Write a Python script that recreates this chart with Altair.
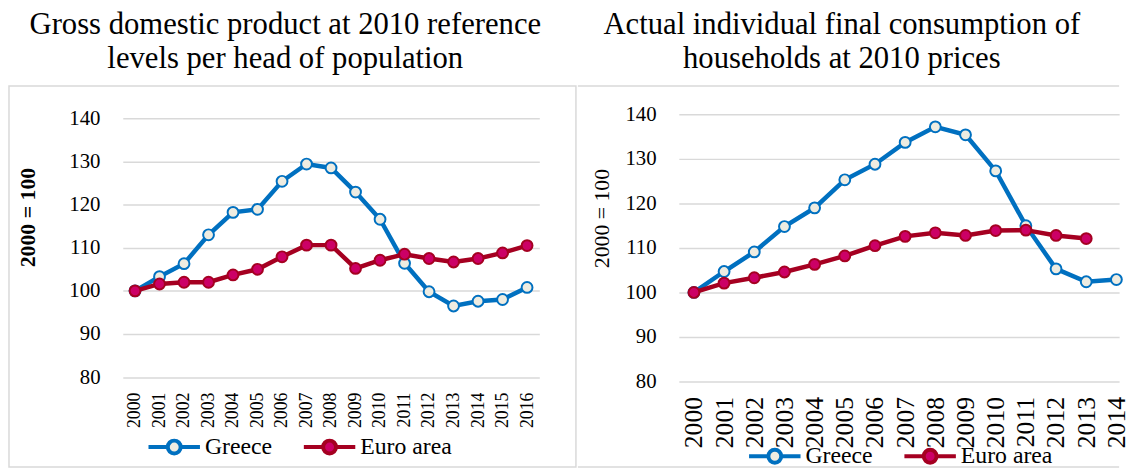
import altair as alt
import pandas as pd

# ---------------- data ----------------
SERIES = ["Greece", "Euro area"]
LINE_COLORS = ["#0070C0", "#A50021"]
FILL_COLORS = ["#EEECE1", "#CC0066"]

gdp_years = list(range(2000, 2017))
gdp_greece = [100.0, 103.3, 106.3, 113.0, 118.2, 118.9, 125.4, 129.4, 128.5,
              122.9, 116.6, 106.4, 99.8, 96.5, 97.6, 98.0, 100.8]
gdp_euro = [100.0, 101.6, 102.0, 102.0, 103.7, 105.0, 107.9, 110.6, 110.6,
            105.2, 107.1, 108.5, 107.5, 106.7, 107.5, 108.8, 110.5]

cons_years = list(range(2000, 2015))
cons_greece = [100.0, 104.7, 109.1, 114.8, 119.0, 125.3, 128.8, 133.7, 137.2,
               135.4, 127.3, 115.0, 105.3, 102.4, 102.9]
cons_years_euro = list(range(2000, 2014))
cons_euro = [100.0, 102.1, 103.3, 104.6, 106.3, 108.2, 110.5, 112.6, 113.4,
             112.8, 113.9, 114.0, 112.8, 112.1]

y_ticks = [80, 90, 100, 110, 120, 130, 140]

title_left = ["Gross domestic product at 2010 reference", "levels per head of population"]
title_right = ["Actual individual final consumption of", "households at 2010 prices"]
y_title = "2000 = 100"

FONT = "Liberation Serif"
GRID = "#D9D9D9"
LEGEND_PATH = ("M-1,0H-0.25 M0.25,0H1 "
               "M-0.25,0A0.25,0.25,0,1,1,0.25,0A0.25,0.25,0,1,1,-0.25,0Z")


def long_df(years_a, vals_a, years_b, vals_b):
    rows = []
    for yr, v in zip(years_a, vals_a):
        rows.append({"year": yr, "value": v, "series": SERIES[0]})
    for yr, v in zip(years_b, vals_b):
        rows.append({"year": yr, "value": v, "series": SERIES[1]})
    return pd.DataFrame(rows)


def panel(df, title, title_dx, width, height, xdomain, ydomain, years, xlab_size,
          ytitle_weight, ytitle_x, ytitle_y, leg_x, leg_y, frame_layers):
    leg = dict(orient="none", legendX=leg_x, legendY=leg_y, direction="horizontal",
               title=None, symbolType=LEGEND_PATH, symbolSize=2704,
               symbolStrokeWidth=4, labelFont=FONT, labelFontSize=24,
               labelColor="black", columnPadding=24, labelOffset=3, padding=0)
    stroke = alt.Stroke("series:N", scale=alt.Scale(domain=SERIES, range=LINE_COLORS),
                        legend=alt.Legend(**leg))
    fill = alt.Fill("series:N", scale=alt.Scale(domain=SERIES, range=FILL_COLORS),
                    legend=alt.Legend(**leg))
    x = alt.X("year:Q",
              scale=alt.Scale(domain=xdomain, nice=False, zero=False),
              axis=alt.Axis(values=years, format="d", labelAngle=270, labelAlign="right",
                            labelBaseline="middle", labelFont=FONT, labelFontSize=xlab_size,
                            labelColor="black", labelPadding=15, grid=False, domain=False,
                            ticks=False, tickSize=0, title=None, labelOverlap=False,
                            labelFlush=False))
    y = alt.Y("value:Q",
              scale=alt.Scale(domain=ydomain, nice=False, zero=False),
              axis=alt.Axis(values=y_ticks, grid=True, gridColor=GRID, gridWidth=1.5,
                            domain=False, ticks=False, tickSize=0, labelFont=FONT,
                            labelFontSize=21, labelColor="black", labelPadding=23,
                            title=y_title, titleFont=FONT, titleFontSize=22,
                            titleFontWeight=ytitle_weight, titleColor="black",
                            titleAngle=270, titleX=ytitle_x, titleY=ytitle_y,
                            titleAlign="center", titleBaseline="middle"))
    layers = list(frame_layers)
    for s in SERIES:
        base = alt.Chart(df).transform_filter(alt.datum.series == s)
        layers.append(base.mark_line(strokeWidth=4.5).encode(x=x, y=y, stroke=stroke))
        layers.append(base.mark_circle(size=120, strokeWidth=2, opacity=1)
                      .encode(x=x, y=y, stroke=stroke, fill=fill))
    return alt.layer(*layers).properties(
        width=width, height=height,
        title=alt.TitleParams(text=title, font=FONT, fontSize=31, fontWeight="normal",
                              color="black", lineHeight=35, anchor="middle",
                              frame="group", dx=title_dx, offset=10))


one = alt.Data(values=[{"k": 1}])

# left panel frame (full rectangle)
left_frame = [alt.Chart(one).mark_rect(fill="transparent", stroke=GRID, strokeWidth=1.5)
              .encode(x=alt.value(-115), x2=alt.value(458),
                      y=alt.value(-28.7), y2=alt.value(356.3))]
# right panel frame (top and bottom edges, joining the left frame)
right_frame = [
    alt.Chart(one).mark_rule(color=GRID, strokeWidth=1.5)
    .encode(x=alt.value(-102), x2=alt.value(445), y=alt.value(-28.7)),
    alt.Chart(one).mark_rule(color=GRID, strokeWidth=1.5)
    .encode(x=alt.value(-102), x2=alt.value(445), y=alt.value(356.3)),
]

left = panel(long_df(gdp_years, gdp_greece, gdp_years, gdp_euro), title_left, -46.25,
             421, 265.6, [1999.5, 2016.5], [80, 140.92], gdp_years, 18, "bold", -96, 103.8,
             24, 308, left_frame)
right = panel(long_df(cons_years, cons_greece, cons_years_euro, cons_euro), title_right, -57.75,
              445, 270, [1999.5, 2014.09], [80, 140], cons_years, 26, "normal", -78.3, 104.8,
              69, 317.3, right_frame)

chart = (alt.hconcat(left, right, spacing=0)
         .resolve_scale(stroke="independent", fill="independent",
                        x="independent", y="independent")
         .resolve_legend(stroke="independent", fill="independent")
         .properties(padding={"top": -2, "left": 0, "right": 0, "bottom": 0},
                     background="white")
         .configure_view(stroke=None))

chart.save("out.html", embed_options={"renderer": "svg", "actions": False})
